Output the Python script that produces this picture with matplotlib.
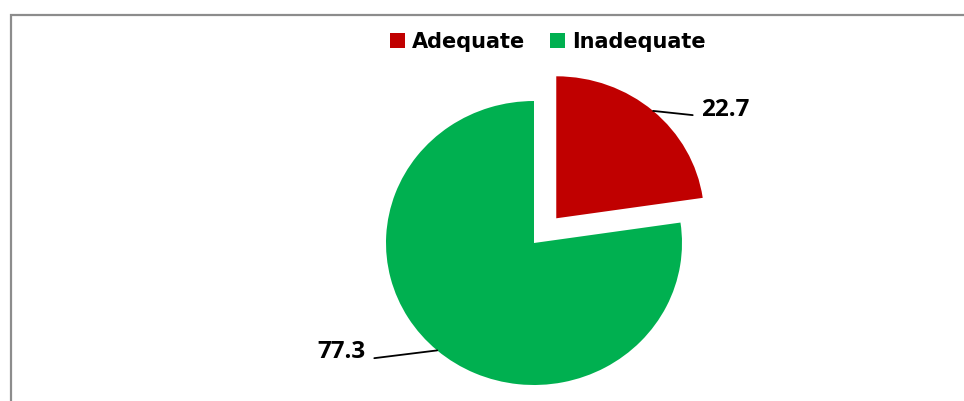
import numpy as np
import matplotlib
matplotlib.use("Agg")
import matplotlib.pyplot as plt
from matplotlib.patches import Rectangle, Patch

categories = ["Adequate", "Inadequate"]
values = [22.7, 77.3]
labels = ["22.7", "77.3"]
colors = ["#C00000", "#00B050"]

W, H = 964, 401
fig = plt.figure(figsize=(W / 100, H / 100), dpi=100)
ax = fig.add_axes([0, 0, 1, 1])

wedges, _ = ax.pie(values, colors=colors, startangle=90, counterclock=False,
                   explode=[0.23, 0], radius=1, center=(0, 0),
                   wedgeprops=dict(linewidth=0))

# pixel geometry of the pie
cx, cy = 534, 243  # center (from top-left)
rx, ry = 148, 142
ax.set_aspect("auto")
ax.set_xlim(-cx / rx, (W - cx) / rx)
ax.set_ylim(-(H - cy) / ry, cy / ry)
ax.axis("off")

text_pos = {0: ((701 - cx) / rx, (cy - 110) / ry, "left"),
            1: ((366 - cx) / rx, (cy - 352) / ry, "right")}
for i, w in enumerate(wedges):
    mid = np.deg2rad((w.theta1 + w.theta2) / 2)
    x0, y0 = w.center
    px = x0 + w.r * np.cos(mid)
    py = y0 + w.r * np.sin(mid)
    tx, ty, ha = text_pos[i]
    ax.annotate(labels[i], xy=(px, py), xytext=(tx, ty), ha=ha, va="center",
                fontsize=17.5, fontweight="bold", family="Open Sans", color="black",
                arrowprops=dict(arrowstyle="-", color="black", lw=1.3,
                                shrinkA=4, shrinkB=0,
                                relpos=(0, 0.25) if i == 0 else (1, 0.2)))

handles = [Patch(facecolor=c, edgecolor="none") for c in colors]
leg = fig.legend(handles, categories, loc="center", ncol=2,
                 bbox_to_anchor=(548 / W, 1 - 42 / H), frameon=False,
                 prop=dict(weight="bold", size=15), handlelength=0.7,
                 handleheight=0.7, handletextpad=0.35, columnspacing=1.2)

# chart frame (cropped at right and bottom)
fig.add_artist(Rectangle((11 / W, -0.1), 1.2, (1 - 15 / H) + 0.1,
                         transform=fig.transFigure, fill=False,
                         edgecolor="#8c8c8c", linewidth=1.6))

fig.savefig("out.png", dpi=100, facecolor="white")
